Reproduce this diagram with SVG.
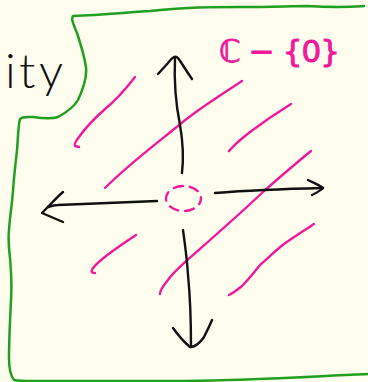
<svg xmlns="http://www.w3.org/2000/svg" width="368" height="382" viewBox="0 0 368 382">
<style>
.bg{fill:#fffdee}
.frame{fill:none;stroke:#1fa01f;stroke-width:2.5;stroke-linecap:round;stroke-linejoin:round}
.ink{fill:none;stroke:#111;stroke-width:2.4;stroke-linecap:round;stroke-linejoin:round}
.pink{fill:none;stroke:#f0199b;stroke-width:2.4;stroke-linecap:round;stroke-linejoin:round}
.lbl{font-family:Lato,"Liberation Sans","DejaVu Sans",sans-serif;font-weight:300;fill:#111}
.plbl{font-family:"DejaVu Sans","Liberation Sans",sans-serif;fill:#f0199b;stroke:#f0199b;stroke-width:0.9}
</style>
<rect class="bg" x="0" y="0" width="368" height="382"/>
<g id="frame">
<path class="frame" d="M364,6 C350,7 340,8 307,6 C290,6 273,7 240,7 C210,7 190,7 150,11 C120,13 100,15 73,16 L72,19 C73,24 75,28 77,33 C80,42 84,55 86,67 C87,76 85,85 78,100 C74,107 67,112 58,117 C52,119 40,118 33,117 C28,117 23,116 20,119 C18,126 18,140 17,150 C16,160 14,175 13,191 C12,205 10,215 9,230 C8,240 9,250 10,258 C11,270 12,285 11,300 C10,320 9,340 9,358 C9,368 10,375 14,380 C20,381 26,381 33,381 L184,381 C260,380 320,376 368,374"/>
</g>
<g id="label-ity">
<text class="lbl" x="5" y="88" font-size="48" textLength="58" lengthAdjust="spacing">ity</text>
</g>
<g id="label-set">
<text class="plbl" x="219" y="62" font-size="31" textLength="121" lengthAdjust="spacing">ℂ − {0}</text>
</g>
<g id="hatching">
<path class="pink" d="M135,77 C125,90 115,101 104,110 C95,118 86,127 79,137 C76,141 74,145 75,146 L79,147"/>
<path class="pink" d="M242,81 C222,94 200,108 184,121 C160,141 130,163 105,188"/>
<path class="pink" d="M291,104 C275,114 262,123 250,132 C241,139 234,145 229,151"/>
<path class="pink" d="M311,151 C295,164 280,177 264,191 C240,214 210,240 184,263 C178,269 172,274 168,280 C163,286 160,290 160,294"/>
<path class="pink" d="M136,235 C127,241 118,247 110,253 C102,259 96,264 93,268 C91,271 91,273 95,273"/>
<path class="pink" d="M314,224 C305,230 294,237 284,244 C275,251 268,258 261,264 C255,271 249,279 242,286 C237,290 233,293 229,295"/>
</g>
<g id="origin">
<ellipse class="pink" cx="183.5" cy="198.5" rx="17.5" ry="12.5" stroke-dasharray="9 7" stroke-dashoffset="3"/>
</g>
<g id="connectors">
<path class="ink" d="M175,58 C174,80 176,105 180,125 C183,142 184,155 182,173"/>
<path class="ink" d="M158,74 L168,63 C172,58 175,55 178,58 C183,65 187,72 192,79" stroke-width="2.8"/>
<path class="ink" d="M183,230 C185,245 187,258 188,275 C190,295 191,320 191,347"/>
<path class="ink" d="M173,328 C178,335 184,342 190,347 C195,347 200,343 204,337 C207,331 210,325 212,320"/>
<path class="ink" d="M157,201 C130,202 100,203 58,205 C54,205 51,206 48,207"/>
<path class="ink" d="M63,192 C57,197 50,205 42,213 C49,216 56,219 63,222" stroke-width="2.8"/>
<path class="ink" d="M215,193 C240,191 280,189 323,188"/>
<path class="ink" d="M308,180 C314,183 319,185 323,188 C320,191 316,193 312,195"/>
</g>
</svg>
